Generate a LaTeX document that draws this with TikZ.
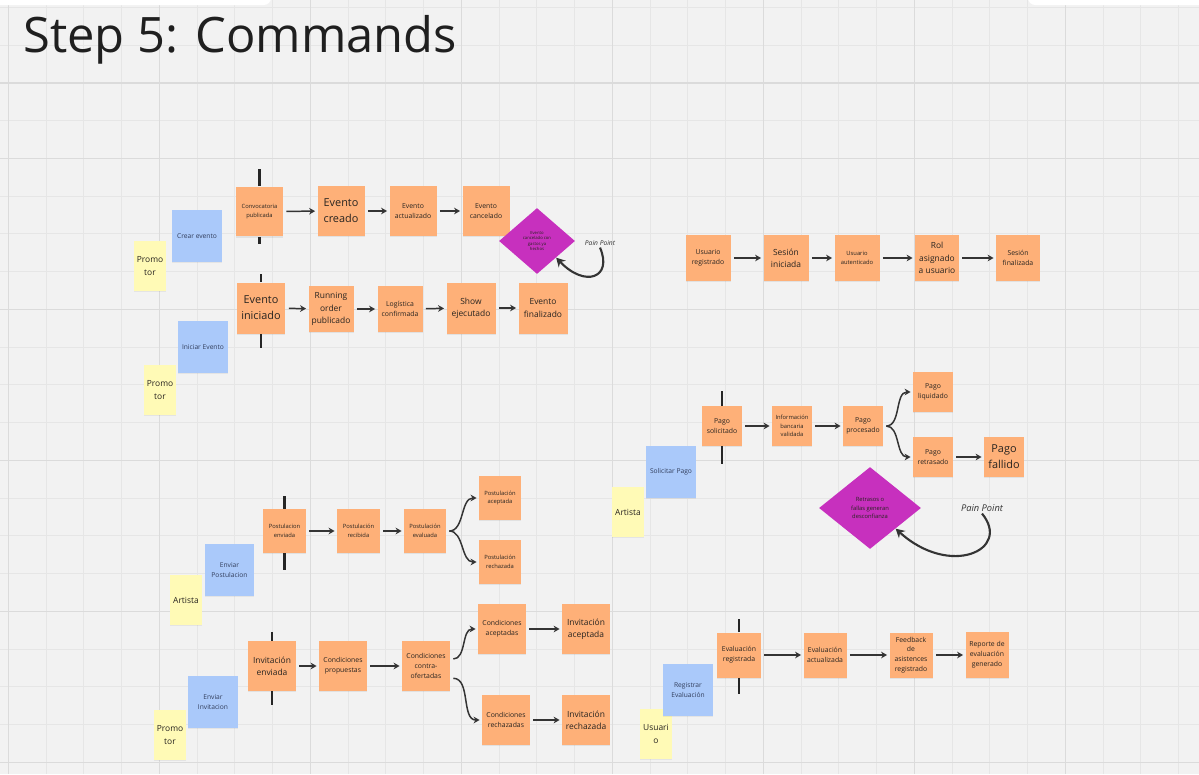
\documentclass[tikz,border=0pt]{standalone}
\usepackage{fontspec}
\setmainfont{Open Sans}
\usepackage{xcolor}
\usepackage{tikz}
\usetikzlibrary{shapes.geometric, arrows.meta, positioning, shadows}
\definecolor{bggray}{RGB}{242,242,242}
\definecolor{gridminor}{RGB}{230,230,230}
\definecolor{gridmajor}{RGB}{219,219,219}
\definecolor{stickorange}{RGB}{254,176,120}
\definecolor{stickblue}{RGB}{170,201,250}
\definecolor{stickyellow}{RGB}{255,250,182}
\definecolor{painpink}{RGB}{199,48,190}
\definecolor{inkdark}{RGB}{40,36,32}
\definecolor{inkblue}{RGB}{50,62,92}
\definecolor{arrowgray}{RGB}{52,52,52}
\tikzstyle{evt} = [rectangle, fill=stickorange, text=inkdark, align=center, inner sep=1pt, minimum width=0.94cm, minimum height=1cm, font=\fontsize{3.9}{5.6}\selectfont, drop shadow={shadow xshift=0pt, shadow yshift=-0.7pt, opacity=0.15}]
\tikzstyle{arrow} = [line width=0.85pt, draw=arrowgray, -{Stealth[length=3.4pt, width=3.8pt]}, shorten <=1.7pt, shorten >=1.2pt]

\begin{document}
\begin{tikzpicture}[x=0.02cm, y=-0.02cm,
  cmd/.style={rectangle, fill=stickblue, text=inkblue, align=center, inner sep=1pt, minimum width=1cm, minimum height=1.04cm, font=\fontsize{3.8}{5.5}\selectfont, drop shadow={shadow xshift=0pt, shadow yshift=-0.7pt, opacity=0.12}},
  actor/.style={rectangle, fill=stickyellow, text=inkdark, align=center, inner sep=1pt, minimum width=0.63cm, minimum height=1cm, font=\fontsize{4.8}{7}\selectfont, drop shadow={shadow xshift=0pt, shadow yshift=-0.7pt, opacity=0.12}},
  pain/.style={diamond, fill=painpink, text=inkdark, align=center, inner sep=0pt, font=\fontsize{3.3}{4.6}\selectfont},
  note/.style={font=\itshape\fontsize{5.3}{6}\selectfont, text=arrowgray, inner sep=1pt},
  bar/.style={line width=1.4pt, draw=black!85},
  painarrow/.style={line width=1.2pt, draw=arrowgray, -{Stealth[length=5pt, width=5.5pt]}},
  tiny txt/.style={font=\fontsize{3.3}{4.8}\selectfont},
  mid txt/.style={font=\fontsize{4.8}{7}\selectfont},
  big txt/.style={font=\fontsize{6.2}{9.2}\selectfont},
  gridline/.style={draw=gridminor, line width=0.4pt},
  gridbold/.style={draw=gridmajor, line width=0.6pt}]
    \useasboundingbox (0,0) rectangle (1199,774);
    % board and grid
    \fill[bggray] (0,0) rectangle (1199,774);
    \foreach \i in {0,...,31} \draw[gridline] ({8.3+37.75*\i},0) -- ({8.3+37.75*\i},774);
    \foreach \j in {0,...,20} \draw[gridline] (0,{7.2+37.75*\j}) -- (1199,{7.2+37.75*\j});
    \foreach \i in {0,...,7} \draw[gridbold] ({8.3+151*\i},0) -- ({8.3+151*\i},774);
    \foreach \j in {83,158.2,309.2,460.2,611.2,762.2} \draw[gridbold] (0,\j) -- (1199,\j);
    \fill[white, rounded corners=4pt] (-10,-20) rectangle (271,5);
    \fill[white, rounded corners=4pt] (1028,-20) rectangle (1210,5);
    \node[anchor=base west, inner sep=0pt, text=black!88, font=\fontsize{27.8}{30}\selectfont] (title) at (23,52) {Step 5: Commands};

    % eventos: crear
    \node[actor] (prom1) at (150,266) {Promo\\tor};
    \node[cmd] (crear) at (197,236) {Crear evento};
    \node[evt, tiny txt] (convoc) at (259.5,211.5) {Convocatoria\\publicada};
    \node[evt, big txt] (creado) at (341,211) {Evento\\creado};
    \node[evt] (actualiz) at (413,211) {Evento\\actualizado};
    \node[evt] (cancel) at (486,211) {Evento\\cancelado};
    \node[pain, minimum width=1.52cm, minimum height=1.32cm, font=\fontsize{2.4}{3.2}\selectfont] (dcancel) at (537,241) {Evento\\cancelado con\\gastos ya\\hechos};
    \node[note, font=\itshape\fontsize{3.8}{4.5}\selectfont] (pain1) at (600,243) {Pain Point};
    \draw[bar] (convoc.north) -- ++(0,-17);
    \draw[bar] (convoc.south) -- ++(0,7);
    \draw[arrow] (convoc) -- (creado);
    \draw[arrow] (creado) -- (actualiz);
    \draw[arrow] (actualiz) -- (cancel);
    \draw[painarrow] (pain1.south) .. controls (613,278) and (585,288) .. (dcancel.south east);

    % eventos: iniciar
    \node[actor] (prom2) at (160,390) {Promo\\tor};
    \node[cmd] (iniciar) at (203,347) {Iniciar Evento};
    \node[evt, big txt, minimum width=0.98cm, minimum height=1.02cm] (inicio) at (261,308) {Evento\\iniciado};
    \node[evt, mid txt, minimum width=0.9cm, minimum height=0.92cm] (running) at (331,309) {Running\\order\\publicado};
    \node[evt, minimum width=0.9cm, minimum height=0.92cm] (logist) at (400,309) {Logística\\confirmada};
    \node[evt, mid txt, minimum width=0.98cm, minimum height=1.02cm] (showej) at (471,308) {Show\\ejecutado};
    \node[evt, mid txt, minimum width=0.98cm, minimum height=1.02cm] (finaliz) at (543,308) {Evento\\finalizado};
    \draw[bar] (inicio.north) -- ++(0,-8);
    \draw[bar] (inicio.south) -- ++(0,14);
    \draw[arrow] (inicio) -- (running);
    \draw[arrow] (running) -- (logist);
    \draw[arrow] (logist) -- (showej);
    \draw[arrow] (showej) -- (finaliz);

    % sesion de usuario
    \node[evt, minimum width=0.9cm, minimum height=0.92cm] (usureg) at (708,258) {Usuario\\registrado};
    \node[evt, mid txt, minimum width=0.9cm, minimum height=0.92cm] (sesini) at (786,258) {Sesión\\iniciada};
    \node[evt, tiny txt, minimum width=0.9cm, minimum height=0.92cm] (usuaut) at (857,258) {Usuario\\autenticado};
    \node[evt, mid txt, minimum width=0.88cm, minimum height=0.92cm] (rolasig) at (937,258) {Rol\\asignado\\a usuario};
    \node[evt, minimum width=0.88cm, minimum height=0.92cm] (sesfin) at (1018,258) {Sesión\\finalizada};
    \draw[arrow] (usureg) -- (sesini);
    \draw[arrow] (sesini) -- (usuaut);
    \draw[arrow] (usuaut) -- (rolasig);
    \draw[arrow] (rolasig) -- (sesfin);

    % pagos
    \node[actor] (artpago) at (628,512) {Artista};
    \node[cmd] (solpago) at (671,472) {Solicitar Pago};
    \node[evt, minimum width=0.8cm, minimum height=0.8cm] (pagosol) at (722,426) {Pago\\solicitado};
    \node[evt, tiny txt, minimum width=0.8cm, minimum height=0.8cm] (pagoinfo) at (792,426) {Información\\bancaria\\validada};
    \node[evt, minimum width=0.8cm, minimum height=0.8cm] (pagoproc) at (863,426) {Pago\\procesado};
    \node[evt, minimum width=0.8cm, minimum height=0.8cm] (pagoliq) at (933,392) {Pago\\liquidado};
    \node[evt, minimum width=0.8cm, minimum height=0.8cm] (pagoret) at (933,457) {Pago\\retrasado};
    \node[evt, big txt, minimum width=0.8cm, minimum height=0.8cm] (pagofall) at (1004,457) {Pago\\fallido};
    \node[pain, minimum width=2.04cm, minimum height=1.64cm] (dpago) at (870,508) {Retrasos o\\fallas generan\\desconfianza};
    \node[note] (pain2) at (982,508) {Pain Point};
    \draw[bar] (pagosol.north) -- ++(0,-15);
    \draw[bar] (pagosol.south) -- ++(0,18);
    \draw[arrow] (pagosol) -- (pagoinfo);
    \draw[arrow] (pagoinfo) -- (pagoproc);
    \draw[arrow] (pagoproc.east) to[out=0, in=180] (pagoliq.west);
    \draw[arrow] (pagoproc.east) to[out=0, in=180] (pagoret.west);
    \draw[arrow] (pagoret) -- (pagofall);
    \draw[painarrow] (pain2.south) .. controls (1012,550) and (950,578) .. (dpago.south east);

    % postulaciones
    \node[actor] (artpost) at (186,600) {Artista};
    \node[cmd] (envpost) at (229.5,570) {Enviar\\Postulacion};
    \node[evt, tiny txt, minimum width=0.86cm, minimum height=0.88cm] (postenv) at (284.5,531) {Postulacion\\enviada};
    \node[evt, tiny txt, minimum width=0.86cm, minimum height=0.88cm] (postrec) at (358.5,531) {Postulación\\recibida};
    \node[evt, tiny txt, minimum width=0.84cm, minimum height=0.88cm] (posteval) at (425,531) {Postulación\\evaluada};
    \node[evt, tiny txt, minimum width=0.84cm, minimum height=0.88cm] (postacep) at (500,498) {Postulación\\aceptada};
    \node[evt, tiny txt, minimum width=0.84cm, minimum height=0.88cm] (postrech) at (500,562) {Postulación\\rechazada};
    \draw[bar] (postenv.north) -- ++(0,-13);
    \draw[bar] (postenv.south) -- ++(0,17);
    \draw[arrow] (postenv) -- (postrec);
    \draw[arrow] (postrec) -- (posteval);
    \draw[arrow] (posteval.east) to[out=0, in=180] (postacep.west);
    \draw[arrow] (posteval.east) to[out=0, in=180] (postrech.west);

    % invitaciones
    \node[actor] (prom3) at (170,735) {Promo\\tor};
    \node[cmd] (envinv) at (213,702) {Enviar\\Invitacion};
    \node[evt, mid txt, minimum width=0.96cm, minimum height=1cm] (invenv) at (272,666) {Invitación\\enviada};
    \node[evt, minimum width=0.96cm, minimum height=1cm] (condprop) at (343,666) {Condiciones\\propuestas};
    \node[evt, minimum width=0.96cm, minimum height=1cm] (condcontra) at (426,666) {Condiciones\\contra-\\ofertadas};
    \node[evt, minimum width=0.96cm, minimum height=1cm] (condacep) at (502,629) {Condiciones\\aceptadas};
    \node[evt, mid txt, minimum width=0.96cm, minimum height=1cm] (invacep) at (586,629) {Invitación\\aceptada};
    \node[evt, minimum width=0.96cm, minimum height=1cm] (condrech) at (506,720) {Condiciones\\rechazadas};
    \node[evt, mid txt, minimum width=0.96cm, minimum height=1cm] (invrech) at (586,720) {Invitación\\rechazada};
    \draw[bar] (invenv.north) -- ++(0,-9);
    \draw[bar] (invenv.south) -- ++(0,14);
    \draw[arrow] (invenv) -- (condprop);
    \draw[arrow] (condprop) -- (condcontra);
    \draw[arrow] ([yshift=4pt]condcontra.east) to[out=0, in=180] (condacep.west);
    \draw[arrow] ([yshift=-7pt]condcontra.east) to[out=0, in=180] (condrech.west);
    \draw[arrow] (condacep) -- (invacep);
    \draw[arrow] (condrech) -- (invrech);

    % evaluaciones
    \node[actor] (usuario) at (656,734) {Usuari\\o};
    \node[cmd] (regeval) at (688,690) {Registrar\\Evaluación};
    \node[evt, minimum width=0.88cm, minimum height=0.9cm] (evalreg) at (739,655) {Evaluación\\registrada};
    \node[evt, minimum width=0.86cm, minimum height=0.9cm] (evalact) at (825,655) {Evaluación\\actualizada};
    \node[evt, minimum width=0.86cm, minimum height=0.9cm] (feedback) at (911,655) {Feedback\\de\\asistences\\registrado};
    \node[evt, minimum width=0.86cm, minimum height=0.92cm] (reporte) at (987,655) {Reporte de\\evaluación\\generado};
    \draw[bar] (evalreg.north) -- ++(0,-13);
    \draw[bar] (evalreg.south) -- ++(0,16);
    \draw[arrow] (evalreg) -- (evalact);
    \draw[arrow] (evalact) -- (feedback);
    \draw[arrow] (feedback) -- (reporte);
\end{tikzpicture}
\end{document}
